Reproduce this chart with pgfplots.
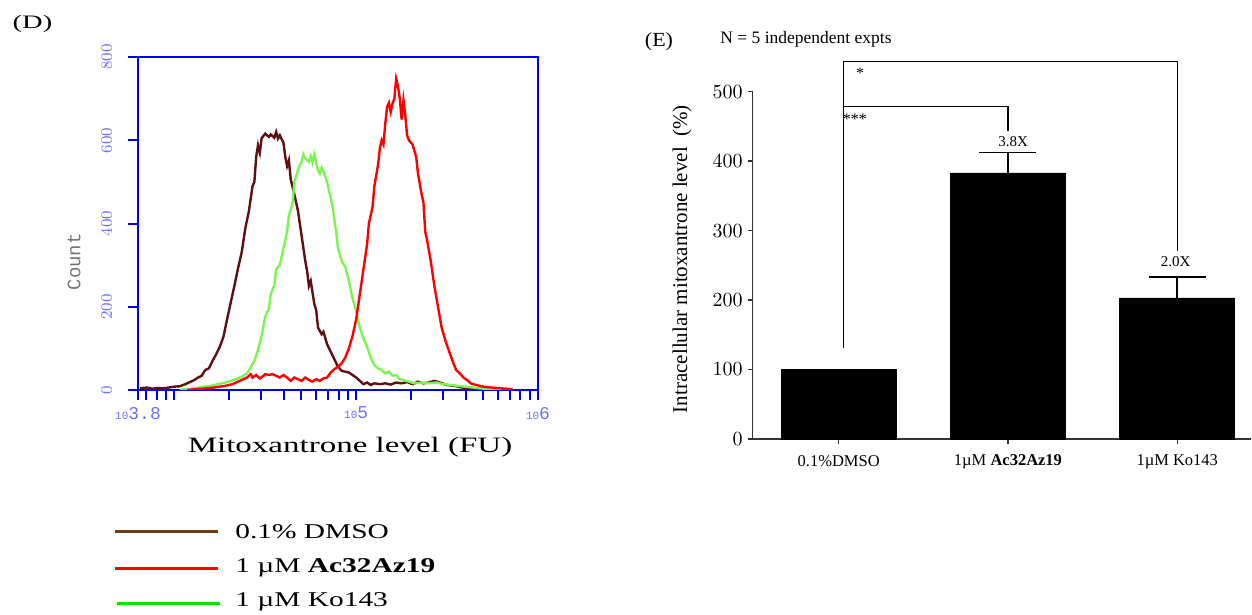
\documentclass[border=0pt]{standalone}
\usepackage{fontspec}
\setmainfont{Liberation Serif}
\newfontfamily\monof{Liberation Mono}
\usepackage{graphicx}
\usepackage{pgfplots}
\pgfplotsset{compat=1.18}
\definecolor{fcblue}{RGB}{0,0,255}
\definecolor{fclab}{RGB}{110,110,255}
\definecolor{dmsoc}{RGB}{95,15,15}
\definecolor{azc}{RGB}{255,0,0}
\definecolor{koc}{RGB}{125,245,80}
\definecolor{dmsoleg}{RGB}{110,60,15}
\definecolor{koleg}{RGB}{0,230,0}

% histograms: x = log10(fluorescence units), y = count
\pgfplotstableread{
lx cnt
3.81 4
3.85 6
3.88 3
3.91 5
3.94 4
3.97 6
4.00 8
4.03 9
4.06 14
4.09 20
4.11 24
4.13 30
4.15 34
4.17 48
4.19 52
4.21 70
4.23 86
4.25 104
4.27 128
4.29 170
4.31 210
4.33 250
4.35 292
4.37 330
4.39 388
4.41 430
4.43 490
4.44 500
4.45 560
4.46 588
4.47 570
4.48 605
4.50 616
4.52 608
4.53 614
4.55 606
4.56 620
4.57 604
4.58 612
4.60 594
4.61 560
4.62 538
4.63 552
4.64 506
4.66 470
4.68 430
4.69 400
4.71 340
4.72 310
4.73 286
4.74 250
4.75 262
4.77 206
4.78 192
4.79 150
4.81 134
4.82 140
4.84 110
4.86 92
4.88 74
4.90 56
4.92 46
4.94 44
4.96 42
4.98 36
5.00 30
5.02 22
5.04 14
5.06 18
5.08 12
5.10 16
5.13 14
5.16 16
5.19 13
5.22 18
5.25 16
5.28 19
5.31 14
5.34 20
5.37 16
5.40 18
5.43 22
5.46 18
5.50 12
5.54 10
5.58 6
5.62 5
5.66 3
5.70 2
}\dmso

\pgfplotstableread{
lx cnt
4.07 0
4.15 3
4.22 6
4.28 10
4.32 14
4.35 20
4.38 26
4.40 30
4.42 38
4.43 30
4.45 36
4.47 28
4.49 34
4.50 38
4.52 36
4.54 38
4.56 34
4.58 30
4.60 36
4.62 30
4.64 22
4.66 30
4.68 26
4.70 22
4.72 30
4.74 24
4.76 20
4.78 26
4.80 22
4.82 28
4.84 30
4.86 42
4.88 50
4.90 56
4.92 64
4.94 78
4.96 100
4.98 130
5.00 170
5.02 230
5.04 290
5.06 350
5.07 400
5.09 440
5.10 490
5.12 540
5.13 580
5.14 600
5.15 590
5.16 640
5.17 680
5.18 690
5.19 668
5.20 688
5.21 700
5.22 748
5.23 730
5.24 700
5.25 650
5.26 696
5.27 660
5.28 612
5.29 600
5.31 590
5.33 560
5.34 520
5.36 470
5.37 450
5.38 380
5.39 360
5.41 310
5.43 250
5.45 200
5.47 150
5.49 120
5.51 94
5.53 70
5.55 48
5.57 40
5.59 30
5.61 24
5.63 16
5.66 12
5.70 8
5.74 6
5.80 4
5.86 2
}\acaz

\pgfplotstableread{
lx cnt
4.03 1
4.08 3
4.12 5
4.16 8
4.20 10
4.24 14
4.28 18
4.31 22
4.34 26
4.37 32
4.40 40
4.42 54
4.44 70
4.46 96
4.48 130
4.50 176
4.52 196
4.53 230
4.55 252
4.56 290
4.58 300
4.60 340
4.62 380
4.63 420
4.65 448
4.66 500
4.68 528
4.69 540
4.70 548
4.71 566
4.72 556
4.74 548
4.75 562
4.76 546
4.77 566
4.79 528
4.80 520
4.81 534
4.82 526
4.84 500
4.85 480
4.87 440
4.88 410
4.89 380
4.90 340
4.92 310
4.94 296
4.96 262
4.98 220
5.00 190
5.02 150
5.04 124
5.06 104
5.08 78
5.10 60
5.12 52
5.14 48
5.16 40
5.18 44
5.20 34
5.22 36
5.24 26
5.26 24
5.29 20
5.32 16
5.36 18
5.40 16
5.44 18
5.48 14
5.52 12
5.56 10
5.60 8
5.64 6
5.68 4
5.74 2
5.80 1
}\kotab

\newcommand{\tenexp}[1]{{\fontsize{5.5}{6}\selectfont 10}#1}

\begin{document}
\begin{tikzpicture}
\useasboundingbox (0,0) rectangle (626pt,307.5pt);

% ---------- (D) flow histogram ----------
\begin{axis}[
  at={(69pt,112.5pt)}, anchor=south west,
  width=200pt, height=166.5pt, scale only axis,
  xmin=3.8, xmax=6, ymin=0, ymax=800,
  axis line style={fcblue, line width=1.1pt},
  tick style={fcblue, line width=1pt},
  tick align=outside,
  major tick length=5pt, minor tick length=5pt,
  xtick pos=bottom, ytick pos=left,
  xtick={3.8,5,6},
  xticklabels={\tenexp{3.8},\tenexp{5},\tenexp{6}},
  minor xtick={3.8451,3.9031,3.9542,4,4.3010,4.4771,4.6021,4.6990,4.7782,4.8451,4.9031,4.9542,5.3010,5.4771,5.6021,5.6990,5.7782,5.8451,5.9031,5.9542},
  ytick={0,200,400,600,800},
  xticklabel style={font=\monof\fontsize{9}{10}\selectfont, text=fclab},
  yticklabel style={rotate=90, anchor=south, font=\monof\fontsize{8}{9}\selectfont, text=fclab},
  yticklabel shift=4.5pt,
  ylabel={Count},
  ylabel style={at={(axis description cs:-0.16,0.385)}, anchor=center, font=\monof\fontsize{9.5}{10}\selectfont, text=black!55},
  xlabel={\scalebox{1.5}[1]{Mitoxantrone level (FU)}},
  xlabel style={at={(axis description cs:0.53,-0.173)}, anchor=center, font=\fontsize{11}{12}\selectfont},
]
\addplot[dmsoc, line width=1.2pt] table[x=lx, y=cnt] {\dmso};
\addplot[koc, line width=1.2pt] table[x=lx, y=cnt] {\kotab};
\addplot[azc, line width=1.2pt] table[x=lx, y=cnt] {\acaz};
\end{axis}

% ---------- (E) bar chart ----------
\begin{axis}[
  at={(376.35pt,88pt)}, anchor=south west,
  width=249pt, height=173.65pt, scale only axis,
  xmin=-0.508, xmax=2.434, ymin=0, ymax=500,
  axis x line*=bottom, axis y line*=left,
  axis line style={black!80, line width=0.75pt},
  tick style={black!80, line width=0.7pt},
  tick align=outside, major tick length=2.5pt,
  xtick={0,1,2},
  xticklabels={0.1\%DMSO, 1µM \textbf{Ac32Az19}, 1µM Ko143},
  xticklabel style={font=\fontsize{8.25}{9}\selectfont, yshift=-2pt},
  ytick={0,100,...,500},
  yticklabel style={font=\fontsize{10}{11}\selectfont, xshift=1pt},
  ylabel={Intracellular mitoxantrone level\ \ (\%)},
  ylabel style={at={(axis description cs:-0.142,0.518)}, anchor=center, font=\fontsize{10.5}{11}\selectfont},
  clip=false,
]
\addplot[ybar, bar width=57.5pt, fill=black, draw=black,
  error bars/.cd, y dir=plus, y explicit,
  error bar style={black, line width=0.75pt},
  error mark options={rotate=90, black, line width=0.75pt, mark size=14.25pt}]
  coordinates {(0,100) +- (0,0) (1,383) +- (0,29.5) (2,203) +- (0,30.5)};
\draw[line width=0.6pt] (axis cs:0.027,131) -- (axis cs:0.027,543) -- (axis cs:2,543) -- (axis cs:2,271);
\draw[line width=0.6pt] (axis cs:0.027,479) -- (axis cs:1,479) -- (axis cs:1,443);
\node[font=\fontsize{8}{9}\selectfont] at (axis cs:0.126,527) {*};
\node[font=\fontsize{8}{9}\selectfont] at (axis cs:0.096,461) {***};
\node[font=\fontsize{7.5}{8}\selectfont] at (axis cs:1.03,428) {3.8X};
\node[font=\fontsize{7.5}{8}\selectfont] at (axis cs:1.99,255) {2.0X};
\end{axis}

% ---------- panel letters, note and legend (pixel grid, y downward) ----------
\begin{scope}[x=0.5pt, y=-0.5pt, yshift=307.5pt]
\node[font=\fontsize{9.5}{10}\selectfont] at (32.5,24) {\scalebox{1.5}[1]{(D)}};
\node[font=\fontsize{10}{11}\selectfont] at (659,42) {\scalebox{1.1}[1]{(E)}};
\node[anchor=west, inner sep=0, font=\fontsize{8.75}{9}\selectfont] at (720,39) {N = 5 independent expts};
\draw[dmsoleg, line width=1.5pt] (115,532) -- (218,532);
\draw[azc, line width=1.5pt] (115,569) -- (218,569);
\draw[koleg, line width=1.5pt] (117,604) -- (220,604);
\begin{scope}[every node/.style={anchor=west, inner sep=0, font=\fontsize{10.5}{11}\selectfont}]
\node at (235,532) {\scalebox{1.4}[1]{0.1\% DMSO}};
\node at (235,568) {\scalebox{1.4}[1]{1 µM \textbf{Ac32Az19}}};
\node at (235,602) {\scalebox{1.4}[1]{1 µM Ko143}};
\end{scope}
\end{scope}
\end{tikzpicture}
\end{document}
